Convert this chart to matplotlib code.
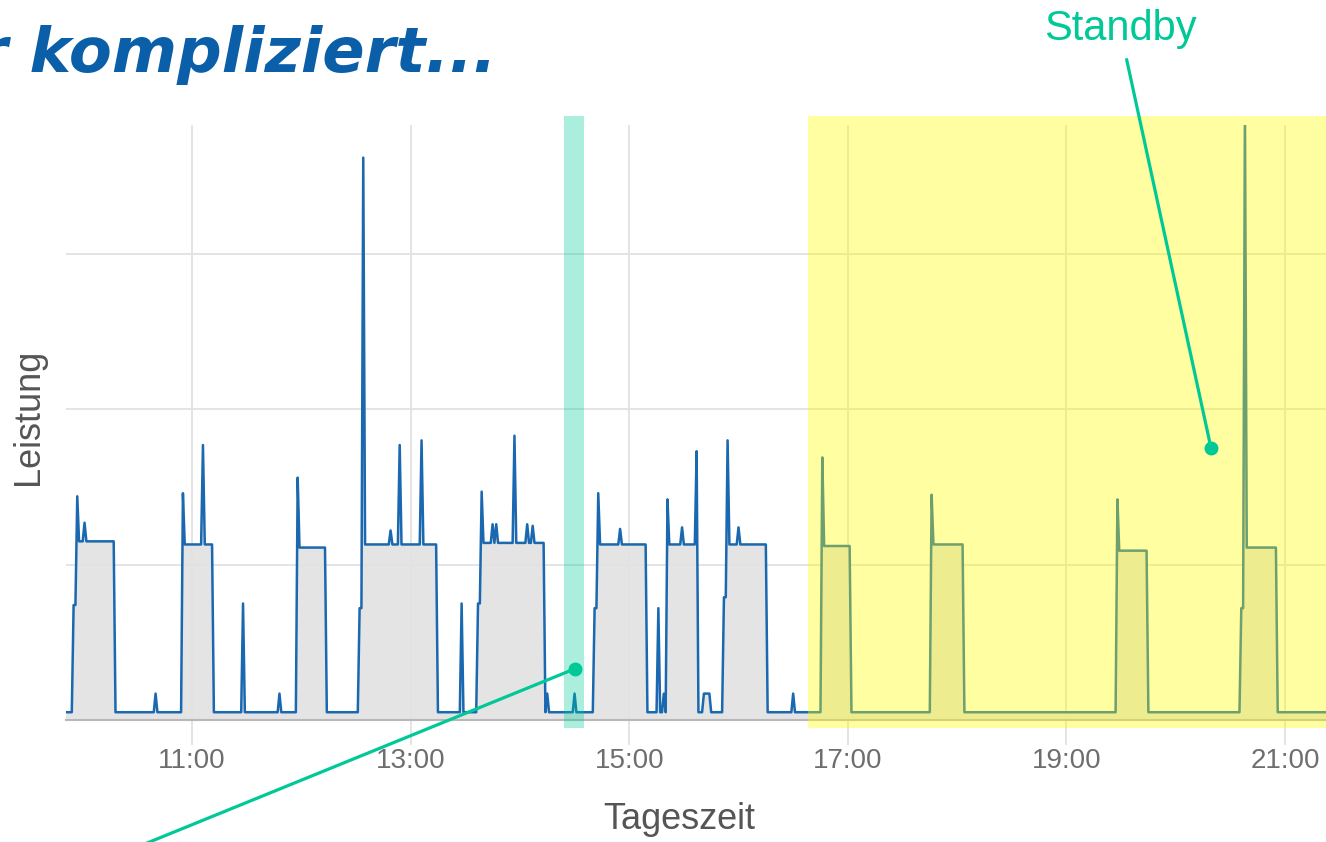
import numpy as np
import matplotlib.pyplot as plt

# --- data (hours of day, power in grid units) ---
standby = 0.05
cycle_start = [9.957, 10.909, 11.961, 12.565, 13.653, 14.724, 15.355, 15.895, 16.773, 17.761, 19.463, 20.634]
cycle_end = [10.296, 11.192, 12.217, 13.242, 14.220, 15.163, 15.620, 16.252, 17.020, 18.054, 19.737, 20.927]
cycle_peak = [1.44, 1.46, 1.56, 3.62, 1.47, 1.46, 1.42, 1.80, 1.69, 1.45, 1.42, 3.95]
cycle_level = [1.15, 1.13, 1.11, 1.13, 1.14, 1.13, 1.13, 1.13, 1.12, 1.13, 1.09, 1.11]
cycle_step = [0.74, 0, 0, 0.72, 0.75, 0.72, 0, 0.79, 0, 0, 0, 0.72]

spike_time = [10.02, 10.661, 11.101, 11.467, 11.805, 12.821, 12.894, 13.095, 13.461,
              13.75, 13.78, 13.946, 14.074, 14.120, 14.257, 14.504, 14.925, 15.263,
              15.309, 15.483, 15.611, 15.68, 15.70, 15.72, 15.74, 15.995, 16.499]
spike_value = [1.27, 0.17, 1.77, 0.75, 0.17, 1.22, 1.77, 1.80, 0.75,
               1.26, 1.26, 1.83, 1.26, 1.25, 0.17, 0.17, 1.23, 0.72,
               0.17, 1.24, 1.73, 0.17, 0.17, 0.17, 0.17, 1.24, 0.17]

hour_ticks = [11, 13, 15, 17, 19, 21]
hour_labels = ['11:00', '13:00', '15:00', '17:00', '19:00', '21:00']

# build one sample per minute from the cycle table
t = np.arange(9.80, 21.45, 1 / 60)
p = np.full_like(t, standby)
for s, e, pk, lv, st in zip(cycle_start, cycle_end, cycle_peak, cycle_level, cycle_step):
    p[(t >= s) & (t < e)] = lv
    i = np.argmin(np.abs(t - s))
    p[i] = pk
    if st:
        p[i - 2:i] = st
for ts, vs in zip(spike_time, spike_value):
    p[np.argmin(np.abs(t - ts))] = vs

W, H = 1326, 842
fig = plt.figure(figsize=(W / 100, H / 100), dpi=100)
ax = fig.add_axes([66 / W, (H - 720) / H, 1 - 66 / W, 595 / H])

ax.fill_between(t, 0, p, color='#e4e4e4', lw=0, zorder=1)
ax.plot(t, p, color='#1a68b0', lw=1.8, zorder=2)

ax.set_xlim(9.847, 21.375)
ax.set_ylim(0, 3.83)
ax.set_xticks(hour_ticks)
ax.set_xticklabels(hour_labels)
ax.set_yticks([1, 2, 3])
ax.set_yticklabels([])
ax.grid(True, color='#e2e2e2', lw=1.3, zorder=0)
ax.tick_params(axis='x', length=18, width=1.3, color='#e2e2e2', labelsize=20,
               labelcolor='#6e6e6e', pad=2)
ax.tick_params(axis='y', length=0)
for loc in ['left', 'right', 'top']:
    ax.spines[loc].set_visible(False)
ax.spines['bottom'].set_color('#b8b8b8')
ax.spines['bottom'].set_linewidth(1.5)

ax.set_xlabel('Tageszeit', fontsize=26, color='#555555', family='Liberation Sans')
ax.set_ylabel('Leistung', fontsize=26, color='#555555', family='Liberation Sans')
ax.xaxis.set_label_coords(0.4865, -0.137)
ax.yaxis.set_label_coords(-0.016, 0.51)
for lab in ax.get_xticklabels():
    lab.set_family('Liberation Sans')

# highlighted regions
ax.axvspan(16.636, 21.4, ymin=-0.0134, ymax=1.015, color='#ffff00', alpha=0.37,
           lw=0, zorder=3, clip_on=False)
ax.axvspan(14.403, 14.586, ymin=-0.0134, ymax=1.015, color='#00cc99', alpha=0.33,
           lw=0, zorder=3, clip_on=False)

# annotations
teal = '#00c896'
ax.annotate('', xy=(14.504, 0.33), xytext=(0.105, -0.005), textcoords='figure fraction',
            arrowprops=dict(arrowstyle='-', color=teal, lw=2.3, shrinkA=0, shrinkB=0),
            annotation_clip=False, zorder=5)
ax.annotate('Standby', xy=(20.323, 1.75), xytext=(0.8446, 0.966), textcoords='figure fraction',
            ha='center', va='center', fontsize=30, color=teal, family='Liberation Sans',
            arrowprops=dict(arrowstyle='-', color=teal, lw=2.3, shrinkA=6, shrinkB=0),
            annotation_clip=False, zorder=5)
ax.plot([14.504, 20.323], [0.33, 1.75], 'o', color=teal, ms=9, zorder=6, clip_on=False)

fig.text(497 / W, 1 - 72 / H, 'Sehr kompliziert...', ha='right', va='baseline',
         fontsize=45, color='#0a5fa8', family='DejaVu Sans Condensed', style='oblique',
         weight='bold')

fig.savefig('out.png', dpi=100)
